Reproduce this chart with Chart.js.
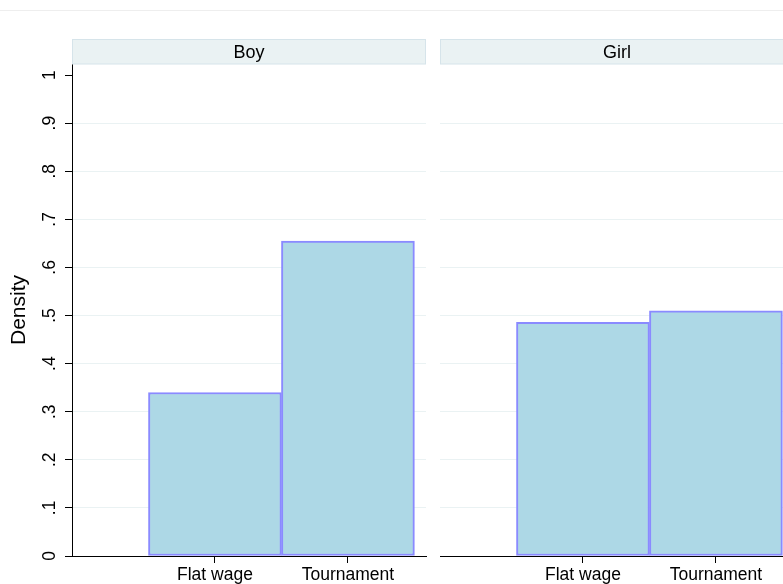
<!DOCTYPE html>
<html>
<head>
<meta charset="utf-8">
<script src="https://cdn.jsdelivr.net/npm/chart.js@4.4.1/dist/chart.umd.min.js"></script>
<style>
  html, body { margin: 0; padding: 0; background: #fff; overflow: hidden; }
  #wrap { position: relative; width: 783px; height: 584px; overflow: hidden; }
  canvas { position: absolute; top: 0; }
  #boy { left: 0; }
  #girl { left: 432px; }
</style>
</head>
<body>
<div id="wrap">
  <canvas id="boy" width="432" height="584"></canvas>
  <canvas id="girl" width="370" height="584"></canvas>
</div>
<script>
const categories = ["Flat wage", "Tournament"];
const panelNames = ["Boy", "Girl"];
const boyDensity = [0.34, 0.655];
const girlDensity = [0.486, 0.51];
const yTicks = [0, 0.1, 0.2, 0.3, 0.4, 0.5, 0.6, 0.7, 0.8, 0.9, 1];
const yTickLabels = ["0", ".1", ".2", ".3", ".4", ".5", ".6", ".7", ".8", ".9", "1"];
const yTitle = "Density";

const FONT = "'Liberation Sans', Arial, Helvetica, sans-serif";
Chart.defaults.font.family = FONT;
Chart.defaults.color = "#000";

// strip header + faint top line + (left panel) rotated y labels
const panelDecor = {
  id: "panelDecor",
  afterDraw(chart, args, opts) {
    const ctx = chart.ctx;
    const area = chart.chartArea;
    ctx.save();
    ctx.strokeStyle = "#eeeeee";
    ctx.lineWidth = 1;
    ctx.beginPath();
    ctx.moveTo(0, 10.5);
    ctx.lineTo(chart.width, 10.5);
    ctx.stroke();

    ctx.fillStyle = "#eaf2f3";
    ctx.fillRect(area.left, 39.5, area.right - area.left, 24.5);
    ctx.strokeStyle = "#d6e4ea";
    ctx.strokeRect(area.left + 0.5, 39.5, area.right - area.left - 1, 24.5);
    ctx.fillStyle = "#000";
    ctx.font = "18px " + FONT;
    ctx.textAlign = "center";
    ctx.textBaseline = "alphabetic";
    ctx.fillText(opts.title, (area.left + area.right) / 2, 58);

    if (opts.yLabels) {
      const y = chart.scales.y;
      ctx.font = "17.5px " + FONT;
      yTicks.forEach((v, i) => {
        ctx.save();
        ctx.translate(55, y.getPixelForValue(v));
        ctx.rotate(-Math.PI / 2);
        ctx.fillText(yTickLabels[i], 0, 0);
        ctx.restore();
      });
      ctx.save();
      ctx.font = "21px " + FONT;
      ctx.translate(25, (area.top + area.bottom) / 2);
      ctx.rotate(-Math.PI / 2);
      ctx.fillText(yTitle, 0, 0);
      ctx.restore();
    }
    ctx.restore();
  },
};

function makePanel(el, values, title, isLeft) {
  return new Chart(el, {
    type: "bar",
    data: {
      datasets: [
        {
          data: values.map((v, i) => ({ x: i, y: v })),
          backgroundColor: "#add8e6",
          borderColor: "#8a8aff",
          borderWidth: 2,
          borderSkipped: false,
          barPercentage: 1,
          categoryPercentage: 1,
        },
      ],
    },
    options: {
      responsive: false,
      animation: false,
      layout: {
        padding: { top: 64, right: isLeft ? 6 : 8, left: 0, bottom: 0 },
      },
      plugins: {
        legend: { display: false },
        tooltip: { enabled: false },
        panelDecor: { title: title, yLabels: isLeft },
      },
      scales: {
        x: {
          type: "linear",
          offset: false,
          min: -1.075,
          max: 1.587,
          z: 1,
          afterBuildTicks: (s) => {
            s.ticks = categories.map((c, i) => ({ value: i }));
          },
          afterFit: (s) => {
            s.height = 28;
          },
          ticks: {
            callback: (v, i) => categories[i],
            font: { size: 17.5 },
            color: "#000",
            padding: 2,
            maxRotation: 0,
            autoSkip: false,
          },
          grid: {
            offset: false,
            drawOnChartArea: false,
            drawTicks: true,
            tickLength: 7,
            tickColor: "#000",
          },
          border: { display: true, color: "#000", width: 1 },
        },
        y: {
          min: 0,
          max: 1.023,
          afterBuildTicks: (s) => {
            s.ticks = yTicks.map((v) => ({ value: v }));
          },
          afterFit: (s) => {
            s.width = isLeft ? 72 : 8;
          },
          ticks: { display: false },
          grid: {
            color: (c) =>
              c.tick && (c.tick.value === 0 || c.tick.value === 1)
                ? "rgba(0,0,0,0)"
                : "#eaf2f3",
            lineWidth: 1,
            drawTicks: isLeft,
            tickLength: 7,
            tickColor: "#000",
          },
          border: { display: isLeft, color: "#000", width: 1 },
        },
      },
    },
    plugins: [panelDecor],
  });
}

const boyChart = makePanel(document.getElementById("boy"), boyDensity, panelNames[0], true);
const girlChart = makePanel(document.getElementById("girl"), girlDensity, panelNames[1], false);
</script>
</body>
</html>
